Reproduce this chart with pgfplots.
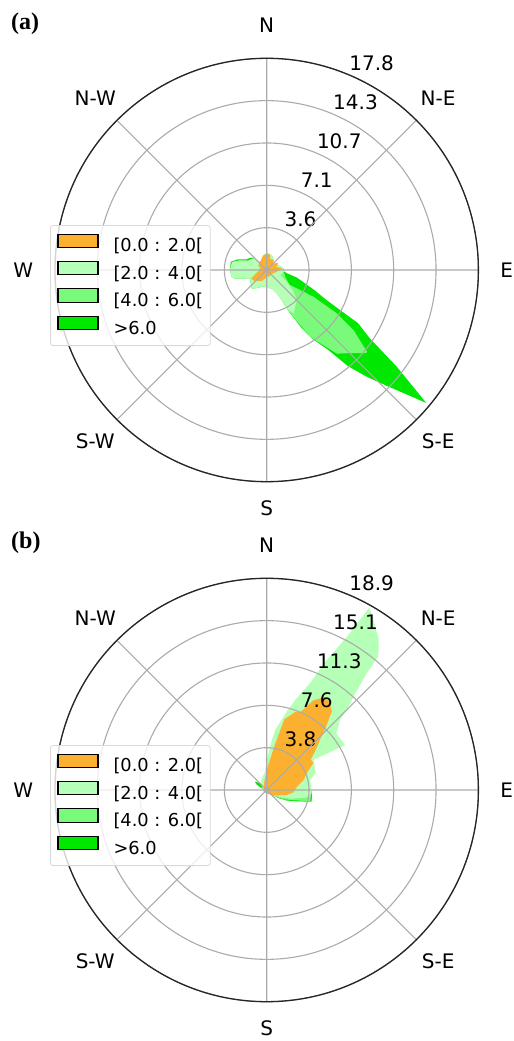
\documentclass[border=0pt]{standalone}
\usepackage{pgfplots}
\pgfplotsset{compat=1.18}
\usepgfplotslibrary{polar}
\usepackage{pgfplotstable}
\usepackage{fontspec}
\setmainfont{DejaVu Sans}
\newfontfamily\panelfont{Liberation Serif}

\definecolor{cOrange}{RGB}{252,176,48}
\definecolor{cLight}{RGB}{182,255,182}
\definecolor{cMid}{RGB}{122,250,122}
\definecolor{cBright}{RGB}{0,232,0}

% ---------- panel (a): compass direction (deg), cumulative radius ----------
\pgfplotstableread{
dir r
0 1.4
20 1.3
45 0.9
70 1.1
84 1.4
95 1.5
99 1.7
104 2.6
108 3.2
113 4.4
116.6 5.6
118.6 7.0
120.2 8.9
123.5 10.4
126.6 13.6
129.8 17.5
134.2 13.9
136.9 12.3
139.8 10.6
142.4 8.5
146.6 6.9
149 5.7
151.7 4.1
153 2.9
156 2.2
165 1.6
180 1.5
191 1.4
209 1.75
219 2.0
243.6 1.6
255 2.8
259 3.0
270 3.1
283 3.1
290 2.6
297 1.95
305 1.75
311 1.6
323 0.7
340 1.0
350 1.3
}\aBright
\pgfplotstableread{
dir r
0 0
100 1.5
112 1.7
122.8 2.3
119.8 4.5
121.7 6.9
124.7 8.9
129.2 10.9
130 10.9
134.4 10.0
140 9.2
147 6.7
151.7 4.1
154 2.8
160 0
}\aMid
\pgfplotstableread{
dir r
0 1.4
20 1.3
45 0.9
70 1.1
84 1.4
95 1.5
100 1.4
110.6 1.2
120 1.9
128 2.8
135 3.6
142 3.9
148 4.3
151.5 3.8
153 2.9
156 2.2
165 1.6
180 1.5
191 1.4
209 1.75
219 2.0
243.6 1.6
255 2.8
259 3.0
270 3.1
283 3.0
290 2.4
297 1.75
305 1.6
311 1.5
323 0.7
340 1.0
350 1.3
}\aLight
\pgfplotstableread{
dir r
0 1.35
10 1.4
20 0.95
32 1.05
45 0.75
58 1.15
70 0.85
84 1.3
100 0.85
120 0.6
140 0.5
160 0.6
180 0.55
200 0.95
215 1.15
230 1.4
241 1.5
252 0.95
265 0.65
285 0.6
300 0.8
315 0.9
330 0.95
345 1.25
}\aOrange

% ---------- panel (b) ----------
\pgfplotstableread{
dir r
0 0.3
80 3.0
92 4.0
95 4.05
104.6 4.15
110.5 2.9
118 2.0
124 1.3
135 0.6
180 0.3
250 0.3
285 0.4
298 1.0
305 1.3
315 0.9
325 0.5
340 0.3
}\bBright
\pgfplotstableread{
dir r
0 0
92 4.0
100 4.0
104.6 4.0
110.5 2.6
118 1.8
124 1.15
135 0.5
150 0
}\bMid
\pgfplotstableread{
dir r
330 1.0
345 1.3
354 1.6
0 2.6
4.4 3.9
7.9 5.4
12 6.4
14.6 7.3
18 8.6
22.1 10.3
24.8 12.8
27.6 15.4
29.4 18.7
33.6 17.5
36.5 16.8
38.6 16.0
39.9 15.5
40.6 13.7
42.9 11.4
45 10.1
46.3 9.05
51 8.0
60.1 8.06
57.3 5.0
71 4.6
77 4.0
94 4.0
100 3.8
110 2.3
120 1.2
140 0.5
180 0.3
240 0.3
300 0.5
}\bLight
\pgfplotstableread{
dir r
300 0.3
330 0.5
350 1.0
2 2.0
10 4.0
14 6.5
20 7.4
23.5 7.6
27.4 9.0
32 9.8
36 9.6
39.7 9.1
43 7.8
46.8 6.5
51 5.6
55.3 4.8
60 4.8
67 3.9
75 3.4
84 2.7
95 2.4
105 1.8
120 1.0
140 0.5
170 0.35
220 0.3
260 0.3
}\bOrange

\tikzset{
  rlab/.style={anchor=base west, inner sep=0pt, xshift=1.5bp, yshift=4.3bp, font=\fontsize{20bp}{24bp}\selectfont},
  clab/.style={anchor=center, inner sep=0pt, font=\fontsize{20bp}{24bp}\selectfont},
}
\pgfplotsset{
  rose/.style={
    scale only axis, width=423.4bp, height=423.4bp,
    anchor=center, ymin=0, clip=false, axis on top,
    xmin=0, xmax=360,
    xtick={0,45,...,315}, xticklabels={},
    yticklabels={},
    major tick length=0pt,
    grid=major,
    major grid style={draw=black!33, line width=1.1bp},
    axis line style={draw=black!85, line width=1.3bp},
    y axis line style={draw=none},
    x filter/.expression={450-x},
    legend cell align=left,
    legend image code/.code={\draw[##1, sharp corners, draw=black, line width=1.1bp, fill opacity=1] (0bp,-0.3bp) rectangle (40bp,13.1bp);},
    legend style={at={(-0.0118,0.606)}, anchor=north west,
      draw=black!15, line width=0.8bp, rounded corners=2.5bp,
      fill=white, fill opacity=0.8, text opacity=1,
      font=\fontsize{17.8bp}{20bp}\selectfont,
      inner xsep=7bp, inner ysep=8bp, row sep=5.5bp,
      nodes={inner sep=0pt, text height=13bp, text depth=3.5bp},
      /tikz/every odd column/.append style={column sep=15bp}},
  },
}

\begin{document}
\begin{tikzpicture}
\useasboundingbox (0,0) rectangle (514bp,1041bp);

% ===== (a) =====
\begin{polaraxis}[rose, at={(266.7bp,771bp)}, ymax=17.83,
  ytick={3.566,7.132,10.698,14.264,17.83}]
\addplot[draw=none, fill=cBright, forget plot] table[x=dir,y=r]{\aBright};
\addplot[draw=none, fill=cMid, forget plot] table[x=dir,y=r]{\aMid};
\addplot[draw=none, fill=cLight, forget plot] table[x=dir,y=r]{\aLight};
\addplot[draw=none, fill=cOrange, forget plot] table[x=dir,y=r]{\aOrange};
\addlegendimage{fill=cOrange}\addlegendentry{[0.0 : 2.0[}
\addlegendimage{fill=cLight}\addlegendentry{[2.0 : 4.0[}
\addlegendimage{fill=cMid}\addlegendentry{[4.0 : 6.0[}
\addlegendimage{fill=cBright}\addlegendentry{>6.0}
\node[rlab] at (axis cs:67.5,3.566) {3.6};
\node[rlab] at (axis cs:67.5,7.132) {7.1};
\node[rlab] at (axis cs:67.5,10.698) {10.7};
\node[rlab] at (axis cs:67.5,14.264) {14.3};
\node[rlab] at (axis cs:67.5,17.83) {17.8};
\node[clab] at (axis cs:90,20.63) {N};
\node[clab] at (axis cs:45,20.42) {N-E};
\node[clab] at (axis cs:0,20.21) {E};
\node[clab] at (axis cs:315,20.42) {S-E};
\node[clab] at (axis cs:270,20.05) {S};
\node[clab] at (axis cs:225,20.42) {S-W};
\node[clab] at (axis cs:180,20.5) {W};
\node[clab] at (axis cs:135,20.42) {N-W};
\end{polaraxis}

% ===== (b) =====
\begin{polaraxis}[rose, at={(266.7bp,251bp)}, ymax=18.9,
  ytick={3.78,7.56,11.34,15.12,18.9}]
\addplot[draw=none, fill=cBright, forget plot] table[x=dir,y=r]{\bBright};
\addplot[draw=none, fill=cMid, forget plot] table[x=dir,y=r]{\bMid};
\addplot[draw=none, fill=cLight, forget plot] table[x=dir,y=r]{\bLight};
\addplot[draw=none, fill=cOrange, forget plot] table[x=dir,y=r]{\bOrange};
\addlegendimage{fill=cOrange}\addlegendentry{[0.0 : 2.0[}
\addlegendimage{fill=cLight}\addlegendentry{[2.0 : 4.0[}
\addlegendimage{fill=cMid}\addlegendentry{[4.0 : 6.0[}
\addlegendimage{fill=cBright}\addlegendentry{>6.0}
\node[rlab] at (axis cs:67.5,3.78) {3.8};
\node[rlab] at (axis cs:67.5,7.56) {7.6};
\node[rlab] at (axis cs:67.5,11.34) {11.3};
\node[rlab] at (axis cs:67.5,15.12) {15.1};
\node[rlab] at (axis cs:67.5,18.9) {18.9};
\node[clab] at (axis cs:90,21.87) {N};
\node[clab] at (axis cs:45,21.65) {N-E};
\node[clab] at (axis cs:0,21.43) {E};
\node[clab] at (axis cs:315,21.65) {S-E};
\node[clab] at (axis cs:270,21.25) {S};
\node[clab] at (axis cs:225,21.65) {S-W};
\node[clab] at (axis cs:180,21.73) {W};
\node[clab] at (axis cs:135,21.65) {N-W};
\end{polaraxis}

\node[anchor=north west, inner sep=0pt, font=\panelfont\bfseries\fontsize{24bp}{26bp}\selectfont] at (11bp,1028bp) {(a)};
\node[anchor=north west, inner sep=0pt, font=\panelfont\bfseries\fontsize{24bp}{26bp}\selectfont] at (11bp,509.5bp) {(b)};
\end{tikzpicture}
\end{document}
